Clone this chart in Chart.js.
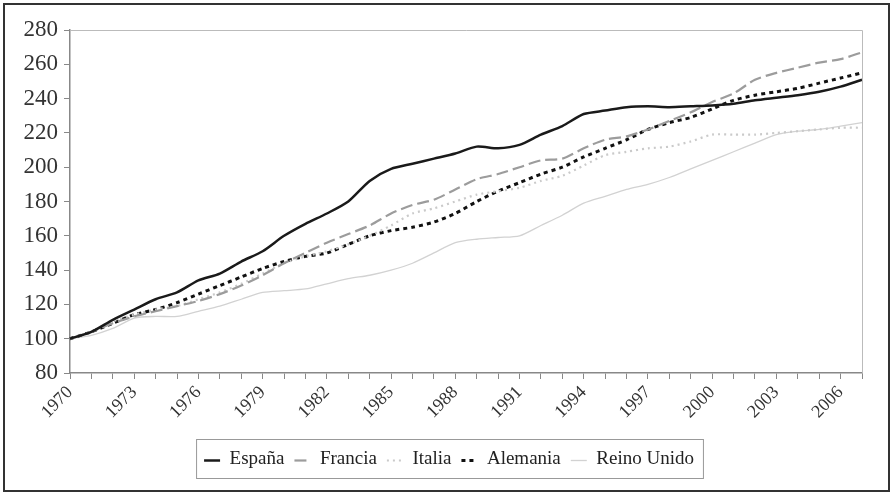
<!DOCTYPE html>
<html>
<head>
<meta charset="utf-8">
<script src="https://cdn.jsdelivr.net/npm/chart.js@4.4.0/dist/chart.umd.min.js"></script>
<style>
  html, body { margin: 0; padding: 0; background: #fff; }
  #wrap { width: 893px; height: 494px; }
</style>
</head>
<body>
<div id="wrap"><canvas id="chart" width="893" height="494"></canvas></div>
<script>
// years 1970-2007, index 1970 = 100
const years = [];
for (let y = 1970; y <= 2007; y++) years.push(String(y));

const espana = [100, 104, 111, 117, 123, 127, 134, 138, 145, 151,
  160, 167, 173, 180, 192, 199, 202, 205, 208, 212,
  211, 213, 219, 224, 231, 233, 235, 235.5, 235, 235.5,
  236, 237, 239, 240.5, 242, 244, 247, 251];
const francia = [100, 104, 109, 113, 116, 119, 122, 126, 131, 137,
  144, 150, 156, 161, 166, 173, 178, 181, 187, 193,
  196, 200, 204, 205, 211, 216, 218, 222, 227, 232,
  238, 243, 251, 255, 258, 261, 263, 267];
const italia = [100, 104, 110, 114, 117, 119, 123, 127, 132, 138,
  144, 148, 151, 155, 160, 166, 173, 176, 180, 184,
  186, 188, 192, 195, 201, 207, 209, 211, 212, 215,
  219, 219, 219, 220, 221, 222, 223, 223];
const alemania = [100, 104, 109, 114, 117, 121, 126, 131, 136, 141,
  145, 148, 150, 155, 160, 163, 165, 168, 173, 180,
  186, 191, 196, 200, 206, 211, 216, 222, 226, 229,
  234, 239, 242, 244, 246, 249, 252, 255];
const reinoUnido = [100, 102, 106, 112, 113, 113, 116, 119, 123, 127,
  128, 129, 132, 135, 137, 140, 144, 150, 156, 158,
  159, 160, 166, 172, 179, 183, 187, 190, 194, 199,
  204, 209, 214, 219, 221, 222, 224, 226];

const serif = "'Liberation Serif', 'DejaVu Serif', serif";
const sampleWidth = 16;

// outer frame, plot border, legend samples and legend box
const framePlugin = {
  id: 'frame',
  afterLayout(chart) {
    // legend sits a little right of the plot centre in the original
    chart.legend.left += 18;
    chart.legend.right += 18;
  },
  afterDraw(chart) {
    const ctx = chart.ctx;
    const a = chart.chartArea;
    ctx.save();
    ctx.strokeStyle = '#bbb';
    ctx.lineWidth = 1;
    ctx.beginPath();
    ctx.moveTo(a.left, a.top + 0.5);
    ctx.lineTo(a.right + 0.5, a.top + 0.5);
    ctx.lineTo(a.right + 0.5, a.bottom);
    ctx.stroke();

    const boxes = chart.legend.legendHitBoxes;
    if (boxes && boxes.length) {
      // line samples in each series' own style
      boxes.forEach((b, i) => {
        const ds = chart.data.datasets[i];
        const y = b.top + b.height / 2 + 1;
        ctx.strokeStyle = ds.borderColor;
        ctx.lineWidth = ds.borderWidth;
        ctx.setLineDash(ds.borderDash || []);
        ctx.beginPath();
        ctx.moveTo(b.left, y);
        ctx.lineTo(b.left + sampleWidth, y);
        ctx.stroke();
      });
      ctx.setLineDash([]);
      const left = Math.min(...boxes.map(b => b.left));
      const right = Math.max(...boxes.map(b => b.left + b.width));
      const top = boxes[0].top;
      const h = boxes[0].height;
      ctx.strokeStyle = '#999';
      ctx.lineWidth = 1;
      ctx.strokeRect(left - 7.5, top - 10.5, right - left + 17, h + 20);
    }

    ctx.strokeStyle = '#333';
    ctx.lineWidth = 2;
    ctx.strokeRect(4, 4, 885, 487);
    ctx.restore();
  }
};

const ctx = document.getElementById('chart').getContext('2d');
new Chart(ctx, {
  type: 'line',
  data: {
    labels: years,
    datasets: [
      { label: 'España', data: espana, borderColor: '#1a1a1a', borderWidth: 2.5 },
      { label: 'Francia', data: francia, borderColor: '#9c9c9c', borderWidth: 2.2, borderDash: [12, 5] },
      { label: 'Italia', data: italia, borderColor: '#cacaca', borderWidth: 2.2, borderDash: [2, 4] },
      { label: 'Alemania', data: alemania, borderColor: '#111', borderWidth: 3, borderDash: [4, 4] },
      { label: 'Reino Unido', data: reinoUnido, borderColor: '#d2d2d2', borderWidth: 1.3 }
    ]
  },
  options: {
    responsive: false,
    animation: false,
    layout: { padding: { top: 30, right: 31, bottom: 15, left: 0 } },
    elements: {
      point: { radius: 0 },
      line: { tension: 0.25, fill: false }
    },
    plugins: {
      tooltip: { enabled: false },
      legend: {
        position: 'bottom',
        labels: {
          boxWidth: sampleWidth,
          boxHeight: 19,
          padding: 10,
          color: '#222',
          font: { family: serif, size: 19 },
          generateLabels: chart => Chart.defaults.plugins.legend.labels.generateLabels(chart)
            .map(l => Object.assign(l, { fillStyle: 'rgba(0,0,0,0)', strokeStyle: 'rgba(0,0,0,0)', lineWidth: 0 }))
        }
      }
    },
    scales: {
      x: {
        grid: { drawOnChartArea: false, color: '#888', tickLength: 6 },
        border: { color: '#888', width: 1.5 },
        ticks: {
          autoSkip: false,
          minRotation: 45,
          maxRotation: 45,
          color: '#333',
          font: { family: serif, size: 18 },
          callback: (v, i) => (i % 3 === 0 ? years[i] : '')
        },
        afterFit: s => { s.height = 67; }
      },
      y: {
        min: 80,
        max: 280,
        grid: { drawOnChartArea: false, color: '#888', tickLength: 6 },
        border: { color: '#888', width: 1.5 },
        ticks: {
          stepSize: 20,
          padding: 6,
          color: '#333',
          font: { family: serif, size: 23 }
        },
        afterFit: s => { s.width = 70; }
      }
    }
  },
  plugins: [framePlugin]
});
</script>
</body>
</html>
